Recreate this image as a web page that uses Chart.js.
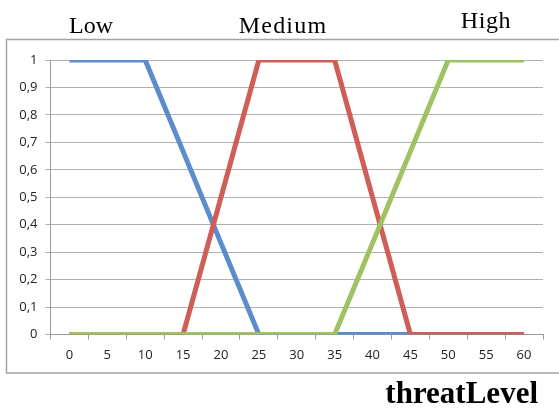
<!DOCTYPE html>
<html>
<head>
<meta charset="utf-8">
<script src="https://cdn.jsdelivr.net/npm/chart.js@4"></script>
<style>
    html, body { margin: 0; padding: 0; background: #fff; }
    #wrap { position: relative; width: 559px; height: 408px; overflow: hidden; }
    .lbl { position: absolute; font-family: "Liberation Serif", "Times New Roman", serif; color: #000; white-space: nowrap; }
    .set { font-size: 24px; line-height: 24px; }
    #low { left: 69px; top: 13px; }
    #medium { left: 283px; top: 13px; transform: translateX(-50%); letter-spacing: 1.2px; }
    #high { left: 486px; top: 8px; transform: translateX(-50%); letter-spacing: 0.6px; }
    #xTitle { right: 21px; top: 377px; font-size: 31px; line-height: 31px; font-weight: bold; }
</style>
</head>
<body>
<div id="wrap">
    <canvas id="chart" width="559" height="408"></canvas>
    <div class="lbl set" id="low">Low</div>
    <div class="lbl set" id="medium">Medium</div>
    <div class="lbl set" id="high">High</div>
    <div class="lbl" id="xTitle">threatLevel</div>
</div>
<script>
    // threat level categories
    const levels = ['0', '5', '10', '15', '20', '25', '30', '35', '40', '45', '50', '55', '60'];

    // membership values
    const lowValues = [1, 1, 1, 0.667, 0.333, 0, 0, 0, 0, 0, 0, 0, 0];
    const mediumValues = [0, 0, 0, 0, 0.5, 1, 1, 1, 0.5, 0, 0, 0, 0];
    const highValues = [0, 0, 0, 0, 0, 0, 0, 0, 0.333, 0.667, 1, 1, 1];

    const seriesNames = ['Low', 'Medium', 'High'];

    // outer frame of the chart
    const framePlugin = {
        id: 'frame',
        beforeDraw: function (chart) {
            const ctx = chart.ctx;
            ctx.save();
            ctx.strokeStyle = '#a3a3a3';
            ctx.lineWidth = 1.5;
            ctx.strokeRect(6.5, 39.5, 560, 333.5);
            ctx.restore();
        }
    };

    function lineDataset(label, data, color, order) {
        return {
            label: label,
            data: data,
            borderColor: color,
            backgroundColor: color,
            borderWidth: 5,
            borderJoinStyle: 'round',
            pointRadius: 0,
            pointHoverRadius: 0,
            tension: 0,
            fill: false,
            order: order
        };
    }

    new Chart(document.getElementById('chart').getContext('2d'), {
        type: 'line',
        data: {
            labels: levels,
            datasets: [
                lineDataset(seriesNames[0], lowValues, '#5b8dcd', 3),
                lineDataset(seriesNames[1], mediumValues, '#cf5e59', 2),
                lineDataset(seriesNames[2], highValues, '#a0c263', 1)
            ]
        },
        plugins: [framePlugin],
        options: {
            responsive: false,
            animation: false,
            layout: {
                padding: { left: 0, top: 60, right: 16, bottom: 0 }
            },
            plugins: {
                legend: { display: false },
                tooltip: { enabled: false }
            },
            scales: {
                x: {
                    offset: true,
                    afterFit: function (scale) { scale.height = 73.5; },
                    grid: {
                        offset: true,
                        drawOnChartArea: false,
                        drawTicks: true,
                        tickLength: 5,
                        color: '#9a9a9a'
                    },
                    border: { color: '#9a9a9a', width: 1 },
                    ticks: {
                        color: '#222',
                        padding: 8,
                        maxRotation: 0,
                        autoSkip: false,
                        font: { family: '"Open Sans", Lato, sans-serif', size: 13 }
                    }
                },
                y: {
                    min: 0,
                    max: 1,
                    afterFit: function (scale) { scale.width = 50.5; },
                    grid: {
                        color: '#b0b0b0',
                        tickLength: 5,
                        drawTicks: true
                    },
                    border: { color: '#9a9a9a', width: 1 },
                    ticks: {
                        stepSize: 0.1,
                        color: '#222',
                        padding: 8,
                        font: { family: '"Open Sans", Lato, sans-serif', size: 13 },
                        callback: function (value) {
                            return String(Math.round(value * 10) / 10).replace('.', ',');
                        }
                    }
                }
            }
        }
    });
</script>
</body>
</html>
